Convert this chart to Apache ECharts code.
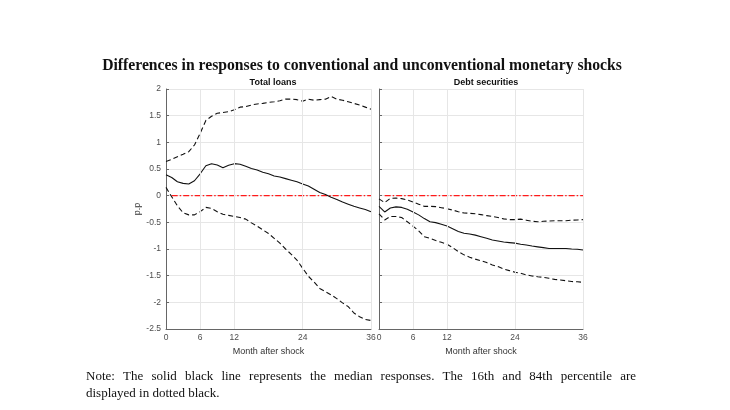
<!DOCTYPE html>
<html>
<head>
<meta charset="utf-8">
<script src="https://cdn.jsdelivr.net/npm/echarts@6/dist/echarts.min.js"></script>
<style>html,body{margin:0;padding:0;background:#fff}#c{width:730px;height:410px}</style>
</head>
<body>
<div id="c"></div>
<script>
var months = [0,1,2,3,4,5,6,7,8,9,10,11,12,13,14,15,16,17,18,19,20,21,22,23,24,25,26,27,28,29,30,31,32,33,34,35,36];
var xTicks = [0,6,12,24,36];
var xGrid = [6,12,24,36];
var zeroLineX = [1,36];
var zeroLineY = [0,0];

var loansMedian = [0.39,0.34,0.26,0.23,0.22,0.28,0.41,0.56,0.60,0.575,0.525,0.57,0.60,0.59,0.55,0.51,0.48,0.44,0.41,0.37,0.35,0.32,0.29,0.26,0.22,0.18,0.12,0.06,0.02,-0.03,-0.07,-0.12,-0.16,-0.20,-0.23,-0.26,-0.30];
var loansUpper = [0.64,0.68,0.73,0.775,0.825,0.95,1.17,1.41,1.49,1.545,1.56,1.575,1.61,1.66,1.67,1.70,1.72,1.73,1.75,1.76,1.78,1.81,1.81,1.80,1.77,1.81,1.79,1.80,1.81,1.86,1.81,1.79,1.76,1.73,1.70,1.66,1.62];
var loansLower = [0.155,-0.02,-0.19,-0.32,-0.36,-0.36,-0.30,-0.22,-0.24,-0.30,-0.35,-0.37,-0.39,-0.41,-0.44,-0.51,-0.57,-0.64,-0.71,-0.80,-0.89,-1.00,-1.10,-1.21,-1.36,-1.51,-1.62,-1.74,-1.80,-1.86,-1.93,-2.01,-2.08,-2.20,-2.27,-2.32,-2.34];

var debtMedian = [-0.20,-0.305,-0.23,-0.21,-0.22,-0.255,-0.305,-0.36,-0.43,-0.49,-0.505,-0.535,-0.57,-0.62,-0.67,-0.705,-0.72,-0.74,-0.77,-0.80,-0.83,-0.85,-0.87,-0.88,-0.89,-0.91,-0.925,-0.945,-0.96,-0.975,-0.99,-0.99,-0.99,-0.99,-1.0,-1.005,-1.02];
var debtUpper = [-0.06,-0.13,-0.05,-0.045,-0.055,-0.08,-0.12,-0.16,-0.20,-0.20,-0.205,-0.225,-0.245,-0.27,-0.30,-0.325,-0.33,-0.34,-0.355,-0.375,-0.39,-0.41,-0.435,-0.45,-0.45,-0.44,-0.46,-0.48,-0.49,-0.48,-0.475,-0.47,-0.47,-0.47,-0.46,-0.455,-0.45];
var debtLower = [-0.34,-0.455,-0.39,-0.39,-0.41,-0.49,-0.57,-0.66,-0.77,-0.80,-0.84,-0.875,-0.91,-0.975,-1.05,-1.11,-1.155,-1.19,-1.22,-1.255,-1.30,-1.33,-1.375,-1.405,-1.435,-1.455,-1.485,-1.505,-1.52,-1.53,-1.55,-1.57,-1.58,-1.595,-1.61,-1.615,-1.625];

var mainTitle = 'Differences in responses to conventional and unconventional monetary shocks';
var panelTitles = ['Total loans', 'Debt securities'];
var xName = 'Month after shock';
var yName = 'p.p';
var noteLines = ['Note: The solid black line represents the median responses. The 16th and 84th percentile are', 'displayed in dotted black.'];

function pairs(arr){ return months.map(function(m,i){ return [m, arr[i]]; }); }

var axisColor = '#666';
var labelStyle = {color:'#4d4d4d', fontSize:8.5, fontFamily:'Liberation Sans'};

function makeX(idx){
  return {
    gridIndex: idx, type:'value', min:0, max:36, interval:6,
    name: xName, nameLocation:'middle', nameGap:14,
    nameTextStyle:{color:'#333', fontSize:9, fontFamily:'Liberation Sans'},
    axisLine:{show:true, onZero:false, lineStyle:{color:axisColor, width:1}},
    axisTick:{show:true, inside:true, length:3, customValues:xTicks, lineStyle:{color:axisColor}},
    axisLabel:Object.assign({margin:4, customValues:xTicks, showMinLabel:true, showMaxLabel:true}, labelStyle),
    splitLine:{show:false}
  };
}
function makeY(idx, showLabels){
  return {
    gridIndex: idx, type:'value', min:-2.5, max:2, interval:0.5,
    name: showLabels ? yName : '', nameLocation:'middle', nameGap:17, nameRotate:90,
    nameTextStyle:{color:'#333', fontSize:9, fontFamily:'Liberation Sans'},
    axisLine:{show:true, lineStyle:{color:axisColor, width:1}},
    axisTick:{show:true, inside:true, length:3, lineStyle:{color:axisColor}},
    axisLabel:Object.assign({show:showLabels, margin:5}, labelStyle),
    splitLine:{show:true, lineStyle:{color:'#e6e6e6', width:1}}
  };
}
function lineSeries(idx, arr, dashed){
  return {
    type:'line', xAxisIndex:idx, yAxisIndex:idx, data:pairs(arr), showSymbol:false, symbol:'none',
    smooth:false, silent:true, z:4,
    lineStyle:{color:'#111', width:1.1, type: dashed ? [5,3] : 'solid'}
  };
}
function gridSeries(idx){
  return {
    type:'line', xAxisIndex:idx, yAxisIndex:idx, data:[], silent:true, z:1,
    markLine:{
      silent:true, symbol:['none','none'], label:{show:false}, animation:false,
      lineStyle:{color:'#e6e6e6', width:1, type:'solid'},
      data: xGrid.map(function(v){ return {xAxis:v}; })
    }
  };
}
function zeroSeries(idx){
  return {
    type:'line', xAxisIndex:idx, yAxisIndex:idx, silent:true, z:3, showSymbol:false, symbol:'none',
    data: zeroLineX.map(function(x,i){ return [x, zeroLineY[i]]; }),
    lineStyle:{color:'#ff1a1a', width:1.2, type:[6,2,1.5,2]}
  };
}

var chart = echarts.init(document.getElementById('c'), null, {renderer:'canvas'});

// justify first note line across the reference text width
var noteFont = '13px "Liberation Serif"';
var noteLeft = 86, noteRight = 636;
var ctx = document.createElement('canvas').getContext('2d');
ctx.font = noteFont;
var words = noteLines[0].split(' ');
var widths = words.map(function(w){ return ctx.measureText(w).width; });
var total = widths.reduce(function(a,b){ return a+b; }, 0);
var gap = (noteRight - noteLeft - total) / (words.length - 1);
var noteGraphics = [];
var cx = noteLeft;
words.forEach(function(w, i){
  noteGraphics.push({type:'text', x:cx, y:370, style:{text:w, fill:'#111', font:noteFont}});
  cx += widths[i] + gap;
});
noteGraphics.push({type:'text', x:noteLeft, y:387, style:{text:noteLines[1], fill:'#111', font:noteFont}});

chart.setOption({
  animation:false,
  backgroundColor:'#fff',
  title:[
    {text:mainTitle, left:357, top:53, textAlign:'center',
     textStyle:{fontFamily:'Liberation Serif', fontWeight:'bold', fontSize:15.7, color:'#111'}},
    {text:panelTitles[0], left:268, top:73, textAlign:'center',
     textStyle:{fontFamily:'Liberation Sans', fontWeight:'bold', fontSize:9, color:'#111'}},
    {text:panelTitles[1], left:481, top:73, textAlign:'center',
     textStyle:{fontFamily:'Liberation Sans', fontWeight:'bold', fontSize:9, color:'#111'}}
  ],
  grid:[
    {left:166, top:89, width:205, height:240},
    {left:379, top:89, width:204, height:240}
  ],
  xAxis:[makeX(0), makeX(1)],
  yAxis:[makeY(0,true), makeY(1,false)],
  series:[
    gridSeries(0), gridSeries(1), zeroSeries(0), zeroSeries(1),
    lineSeries(0, loansUpper, true), lineSeries(0, loansLower, true), lineSeries(0, loansMedian, false),
    lineSeries(1, debtUpper, true), lineSeries(1, debtLower, true), lineSeries(1, debtMedian, false)
  ],
  graphic: noteGraphics
});
</script>
</body>
</html>
